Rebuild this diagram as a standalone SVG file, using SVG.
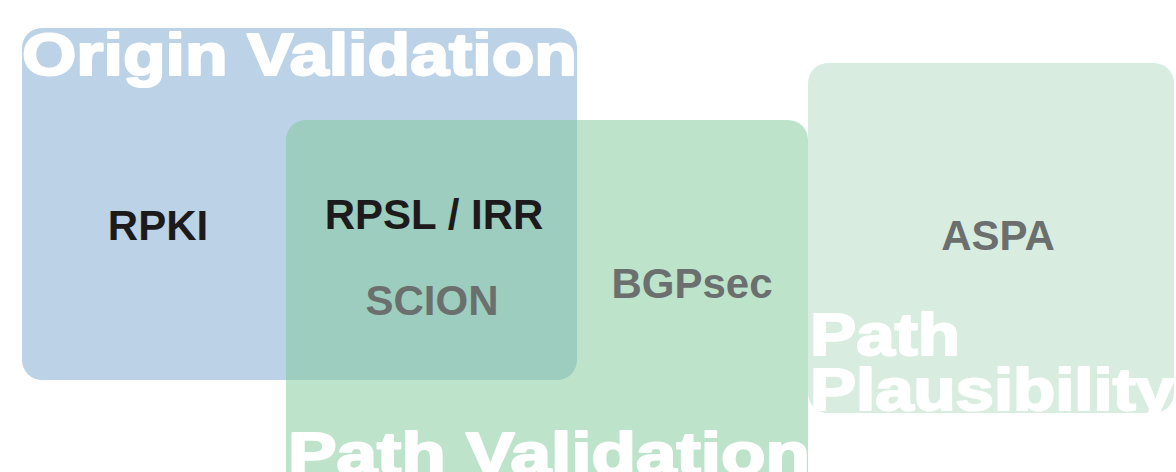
<svg xmlns="http://www.w3.org/2000/svg" width="1176" height="472" viewBox="0 0 1176 472">
  <style>
    .title { font-family: "Liberation Sans", Arial, sans-serif; font-weight: bold; font-size: 60px; fill: #ffffff; stroke: #ffffff; stroke-width: 2.2; stroke-linejoin: round; }
    .lbl { font-family: "Liberation Sans", Arial, sans-serif; font-weight: bold; font-size: 42px; text-anchor: middle; }
    .dark { fill: #1c1a1b; }
    .gray { fill: #6b6f6d; }
  </style>
  <rect width="1176" height="472" fill="#ffffff"/>
  <g id="origin-validation">
    <rect x="22" y="28" width="555" height="352" rx="20" fill="#bcd2e6"/>
    <text class="title" x="22" y="75" textLength="555" lengthAdjust="spacingAndGlyphs">Origin Validation</text>
  </g>
  <g id="path-validation">
    <rect x="286" y="120" width="522" height="380" rx="20" fill="#7bc797" fill-opacity="0.5"/>
    <text class="title" x="288" y="474" textLength="522" lengthAdjust="spacingAndGlyphs">Path Validation</text>
  </g>
  <g id="path-plausibility">
    <rect x="808" y="63" width="366" height="350" rx="20" fill="#d8ede0"/>
    <text class="title" x="810" y="355" textLength="150" lengthAdjust="spacingAndGlyphs">Path</text>
    <text class="title" x="810" y="410" textLength="364" lengthAdjust="spacingAndGlyphs">Plausibility</text>
  </g>
  <g id="rpki"><text class="lbl dark" x="158" y="240">RPKI</text></g>
  <g id="rpsl-irr"><text class="lbl dark" x="434" y="229">RPSL / IRR</text></g>
  <g id="scion"><text class="lbl gray" x="432" y="315">SCION</text></g>
  <g id="bgpsec"><text class="lbl gray" x="692" y="298">BGPsec</text></g>
  <g id="aspa"><text class="lbl gray" x="998" y="250">ASPA</text></g>
  <g id="connectors"></g>
</svg>
